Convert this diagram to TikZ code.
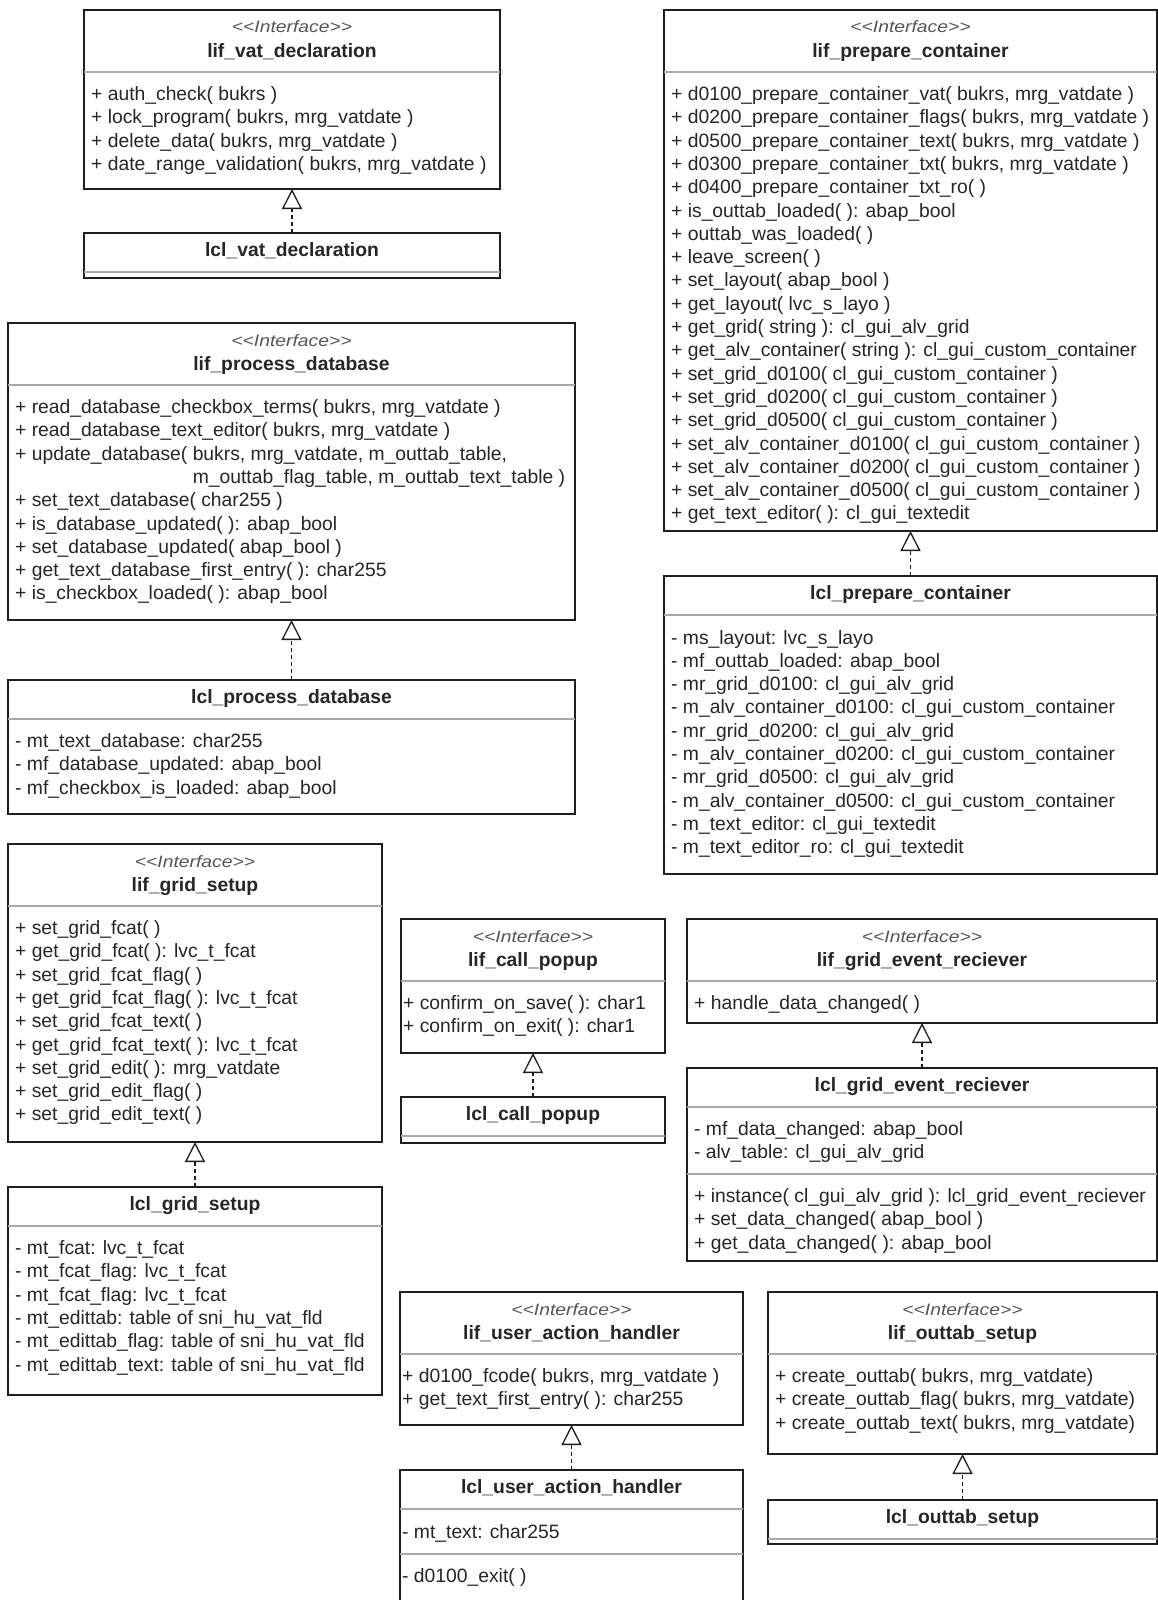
\documentclass[tikz,border=0pt]{standalone}
\usepackage{fontspec}
\setmainfont{Liberation Sans}
\newfontfamily\stereofont[FakeStretch=1.17]{Liberation Sans}
\usetikzlibrary{arrows.meta}
\definecolor{bordercol}{HTML}{1E1E1E}
\definecolor{sepcol}{HTML}{A8A8A8}
\definecolor{txtcol}{HTML}{262626}
\definecolor{stereocol}{HTML}{555555}
\tikzset{
  frame/.style={draw=bordercol, line width=1.6pt, fill=white, anchor=north west, inner sep=0pt, outer sep=0pt},
  sepline/.style={draw=sepcol, line width=1.3pt},
  member/.style={anchor=base west, inner sep=0pt, text=txtcol, font=\fontsize{19.3}{23.3}\selectfont},
  cname/.style={anchor=base, inner sep=0pt, text=txtcol, font=\fontsize{19.3}{23.3}\selectfont\bfseries},
  stereo/.style={anchor=base, inner sep=0pt, text=stereocol, font=\stereofont\fontsize{16.5}{20}\selectfont\itshape},
  realize/.style={draw=bordercol, line width=1.3pt, dash pattern=on 4pt off 3pt,
    -{Triangle[open, length=20pt, width=20pt]}}
}
% #1 name, #2 L, #3 T, #4 R, #5 B, #6 title
\newcommand\IfaceBox[6]{%
  \node[frame, minimum width={#4-#2}, minimum height={#5-#3}] (#1) at (#2,#3) {};
  \node[stereo] (#1-st) at ({(#2+#4)/2},{#3+23}) {<{}<Interface>{}>};
  \node[cname] (#1-nm) at ({(#2+#4)/2},{#3+47.5}) {#6};
  \draw[sepline] (#2,#3+62) -- (#4,#3+62);
}
\newcommand\ClassBox[6]{%
  \node[frame, minimum width={#4-#2}, minimum height={#5-#3}] (#1) at (#2,#3) {};
  \node[cname] (#1-nm) at ({(#2+#4)/2},{#3+23.5}) {#6};
  \draw[sepline] (#2,#3+39) -- (#4,#3+39);
}
% #1 prefix, #2 x, #3 first baseline, #4 list
\newcommand\Members[4]{%
  \foreach \t [count=\i from 0] in {#4}
    \node[member] (#1-m\i) at (#2,{#3+23.3*\i}) {\t};
}
\begin{document}
\begin{tikzpicture}[x=1pt,y=-1pt]
\fill[white] (0,0) rectangle (1158,1600);
\useasboundingbox (0,0) rectangle (1158,1600);

% ---- lif_vat_declaration / lcl_vat_declaration
\IfaceBox{vatI}{84}{10}{500}{189}{lif\_vat\_declaration}
\Members{vatI}{91}{100.5}{%
  {+ auth\_check( bukrs )},
  {+ lock\_program( bukrs, mrg\_vatdate )},
  {+ delete\_data( bukrs, mrg\_vatdate )},
  {+ date\_range\_validation( bukrs, mrg\_vatdate )}}
\ClassBox{vatC}{84}{233}{500}{278}{lcl\_vat\_declaration}

% ---- lif_prepare_container / lcl_prepare_container
\IfaceBox{prepI}{664}{10}{1157}{531}{lif\_prepare\_container}
\Members{prepI}{671}{100.5}{%
  {+ d0100\_prepare\_container\_vat( bukrs, mrg\_vatdate )},
  {+ d0200\_prepare\_container\_flags( bukrs, mrg\_vatdate )},
  {+ d0500\_prepare\_container\_text( bukrs, mrg\_vatdate )},
  {+ d0300\_prepare\_container\_txt( bukrs, mrg\_vatdate )},
  {+ d0400\_prepare\_container\_txt\_ro( )},
  {+ is\_outtab\_loaded( ): abap\_bool},
  {+ outtab\_was\_loaded( )},
  {+ leave\_screen( )},
  {+ set\_layout( abap\_bool )},
  {+ get\_layout( lvc\_s\_layo )},
  {+ get\_grid( string ): cl\_gui\_alv\_grid},
  {+ get\_alv\_container( string ): cl\_gui\_custom\_container},
  {+ set\_grid\_d0100( cl\_gui\_custom\_container )},
  {+ set\_grid\_d0200( cl\_gui\_custom\_container )},
  {+ set\_grid\_d0500( cl\_gui\_custom\_container )},
  {+ set\_alv\_container\_d0100( cl\_gui\_custom\_container )},
  {+ set\_alv\_container\_d0200( cl\_gui\_custom\_container )},
  {+ set\_alv\_container\_d0500( cl\_gui\_custom\_container )},
  {+ get\_text\_editor( ): cl\_gui\_textedit}}
\ClassBox{prepC}{664}{576}{1157}{874}{lcl\_prepare\_container}
\Members{prepC}{671}{644}{%
  {- ms\_layout: lvc\_s\_layo},
  {- mf\_outtab\_loaded: abap\_bool},
  {- mr\_grid\_d0100: cl\_gui\_alv\_grid},
  {- m\_alv\_container\_d0100: cl\_gui\_custom\_container},
  {- mr\_grid\_d0200: cl\_gui\_alv\_grid},
  {- m\_alv\_container\_d0200: cl\_gui\_custom\_container},
  {- mr\_grid\_d0500: cl\_gui\_alv\_grid},
  {- m\_alv\_container\_d0500: cl\_gui\_custom\_container},
  {- m\_text\_editor: cl\_gui\_textedit},
  {- m\_text\_editor\_ro: cl\_gui\_textedit}}

% ---- lif_process_database / lcl_process_database
\IfaceBox{procI}{8}{323}{575}{620}{lif\_process\_database}
\Members{procI}{15}{413.5}{%
  {+ read\_database\_checkbox\_terms( bukrs, mrg\_vatdate )},
  {+ read\_database\_text\_editor( bukrs, mrg\_vatdate )},
  {+ update\_database( bukrs, mrg\_vatdate, m\_outtab\_table,},
  {\phantom{+ update\_database( }m\_outtab\_flag\_table, m\_outtab\_text\_table )},
  {+ set\_text\_database( char255 )},
  {+ is\_database\_updated( ): abap\_bool},
  {+ set\_database\_updated( abap\_bool )},
  {+ get\_text\_database\_first\_entry( ): char255},
  {+ is\_checkbox\_loaded( ): abap\_bool}}
\ClassBox{procC}{8}{680}{575}{814}{lcl\_process\_database}
\Members{procC}{15}{747.5}{%
  {- mt\_text\_database: char255},
  {- mf\_database\_updated: abap\_bool},
  {- mf\_checkbox\_is\_loaded: abap\_bool}}

% ---- lif_grid_setup / lcl_grid_setup
\IfaceBox{gridI}{8}{844}{382}{1142}{lif\_grid\_setup}
\Members{gridI}{15}{934.5}{%
  {+ set\_grid\_fcat( )},
  {+ get\_grid\_fcat( ): lvc\_t\_fcat},
  {+ set\_grid\_fcat\_flag( )},
  {+ get\_grid\_fcat\_flag( ): lvc\_t\_fcat},
  {+ set\_grid\_fcat\_text( )},
  {+ get\_grid\_fcat\_text( ): lvc\_t\_fcat},
  {+ set\_grid\_edit( ): mrg\_vatdate},
  {+ set\_grid\_edit\_flag( )},
  {+ set\_grid\_edit\_text( )}}
\ClassBox{gridC}{8}{1187}{382}{1395}{lcl\_grid\_setup}
\Members{gridC}{15}{1254.5}{%
  {- mt\_fcat: lvc\_t\_fcat},
  {- mt\_fcat\_flag: lvc\_t\_fcat},
  {- mt\_fcat\_flag: lvc\_t\_fcat},
  {- mt\_edittab: table of sni\_hu\_vat\_fld},
  {- mt\_edittab\_flag: table of sni\_hu\_vat\_fld},
  {- mt\_edittab\_text: table of sni\_hu\_vat\_fld}}

% ---- lif_call_popup / lcl_call_popup
\IfaceBox{popI}{401}{919}{665}{1053}{lif\_call\_popup}
\Members{popI}{403}{1009.5}{%
  {+ confirm\_on\_save( ): char1},
  {+ confirm\_on\_exit( ): char1}}
\ClassBox{popC}{401}{1097}{665}{1143}{lcl\_call\_popup}

% ---- lif_grid_event_reciever / lcl_grid_event_reciever
\IfaceBox{evI}{687}{919}{1157}{1023}{lif\_grid\_event\_reciever}
\Members{evI}{694}{1009.5}{{+ handle\_data\_changed( )}}
\ClassBox{evC}{687}{1068}{1157}{1261}{lcl\_grid\_event\_reciever}
\Members{evC}{694}{1135.5}{%
  {- mf\_data\_changed: abap\_bool},
  {- alv\_table: cl\_gui\_alv\_grid}}
\draw[sepline] (687,1174) -- (1157,1174);
\Members{evCm}{694}{1202.5}{%
  {+ instance( cl\_gui\_alv\_grid ): lcl\_grid\_event\_reciever},
  {+ set\_data\_changed( abap\_bool )},
  {+ get\_data\_changed( ): abap\_bool}}

% ---- lif_user_action_handler / lcl_user_action_handler
\IfaceBox{userI}{400}{1292}{743}{1425}{lif\_user\_action\_handler}
\Members{userI}{402}{1382.5}{%
  {+ d0100\_fcode( bukrs, mrg\_vatdate )},
  {+ get\_text\_first\_entry( ): char255}}
\begin{scope}
\clip (0,0) rectangle (1158,1600);
\ClassBox{userC}{400}{1470}{743}{1650}{lcl\_user\_action\_handler}
\end{scope}
\Members{userC}{402}{1538.5}{{- mt\_text: char255}}
\draw[sepline] (400,1554) -- (743,1554);
\Members{userCm}{402}{1582.5}{{- d0100\_exit( )}}

% ---- lif_outtab_setup / lcl_outtab_setup
\IfaceBox{outI}{768}{1292}{1157}{1454}{lif\_outtab\_setup}
\Members{outI}{775}{1382.5}{%
  {+ create\_outtab( bukrs, mrg\_vatdate)},
  {+ create\_outtab\_flag( bukrs, mrg\_vatdate)},
  {+ create\_outtab\_text( bukrs, mrg\_vatdate)}}
\ClassBox{outC}{768}{1500}{1157}{1544}{lcl\_outtab\_setup}

% ---- realizations
\draw[realize] (vatC.north) -- (vatI.south);
\draw[realize] (prepC.north) -- (prepI.south);
\draw[realize] (procC.north) -- (procI.south);
\draw[realize] (gridC.north) -- (gridI.south);
\draw[realize] (popC.north) -- (popI.south);
\draw[realize] (evC.north) -- (evI.south);
\draw[realize] (userC.north) -- (userI.south);
\draw[realize] (outC.north) -- (outI.south);
\end{tikzpicture}
\end{document}
